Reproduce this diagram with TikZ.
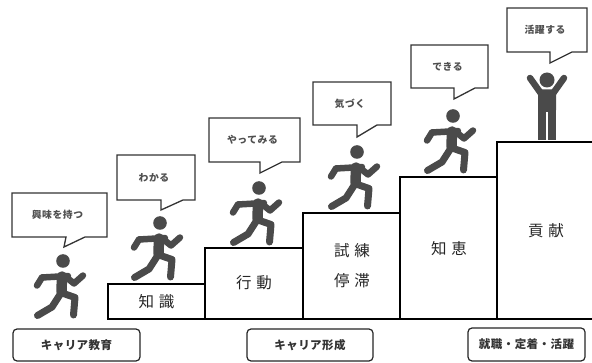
\documentclass[tikz,border=0pt]{standalone}
\usepackage{fontspec}
\newfontfamily\jp{Noto Sans CJK JP}
\newfontfamily\jpwide[LetterSpace=4]{Noto Sans CJK JP}
\newfontfamily\jptip[LetterSpace=6]{Noto Sans CJK JP}
\usetikzlibrary{calc}
\definecolor{figgray}{HTML}{4A4A4A}
\definecolor{tipgray}{HTML}{4F4F4F}
\tikzset{
  limb/.style={draw=figgray, line width=6.5pt, line cap=round, line join=round},
  stepbox/.style={draw=black, line width=1.8pt, fill=white},
  steptext/.style={font=\jp\fontsize{15.5}{19}\selectfont, text=black!85},
  bubbletext/.style={font=\jptip\bfseries\fontsize{9.8}{11}\selectfont, text=tipgray},
  bubbleline/.style={draw=black!80, line width=1.3pt, fill=white, line join=miter},
  stagebox/.style={draw=black!85, line width=1.2pt, rounded corners=4pt,
    font=\jpwide\bfseries\fontsize{11.5}{13}\selectfont, text=black!80, inner sep=0pt},
  runner/.pic={
    \fill[figgray] (0,0) circle (6.8);
    \draw[limb, line width=10.5pt] (-1,15.5) -- (-1.5,31);
    \draw[limb] (-21,16.5) -- (5,15);
    \draw[limb] (-21,16.5) -- (-26,24.5);
    \draw[limb] (3,16) -- (11,22.5) -- (20,14.5);
    \draw[limb, line width=7pt] (-2,32) -- (-11,46) -- (-25.5,54.5);
    \draw[limb, line width=7pt] (-1,32) -- (12,36.5) -- (10.5,54);
  },
  cheer/.pic={
    \fill[figgray] (0,0) circle (7.5);
    \fill[figgray, rounded corners=2pt] (-9,9.5) rectangle (9,32);
    \fill[figgray] (-9,30) rectangle (-1,60);
    \fill[figgray] (1,30) rectangle (9,60);
    \draw[limb] (-6,13.5) -- (-17,-2);
    \draw[limb] (6,13.5) -- (17,-2);
  }
}
% speech bubble: name, left, top, right, bottom, tail left x, tail right x, tip, text
\newcommand{\speech}[9]{%
  \draw[bubbleline] (#2,#3) -- (#4,#3) -- (#4,#5) -- (#7,#5) -- (#8) -- (#6,#5) -- (#2,#5) -- cycle;
  \node[bubbletext] (#1) at ({(#2+#4)/2-2},{(#3+#5)/2}) {#9};
}
\begin{document}
\begin{tikzpicture}[x=1pt,y=-1pt]
\useasboundingbox (0,0) rectangle (592,363);
\fill[white] (0,0) rectangle (592,363);

% staircase
\draw[stepbox] (108,284) rectangle (205,319);
\draw[stepbox] (205,248) rectangle (303,319);
\draw[stepbox] (303,213) rectangle (400,319);
\draw[stepbox] (400,177) rectangle (497,319);
\draw[stepbox] (497,142) rectangle (593,319);
\node[steptext] (s1) at (156.5,302) {知\hspace{5pt}識};
\node[steptext] (s2) at (254,283) {行\hspace{5pt}動};
\node[steptext] (s3a) at (352,251) {試\hspace{5pt}練};
\node[steptext] (s3b) at (352,281) {停\hspace{5pt}滞};
\node[steptext] (s4) at (449,249) {知\hspace{5pt}恵};
\node[steptext] (s5) at (546,231) {貢\hspace{5pt}献};

% figures
\pic at (63,261) {runner};
\pic at (160,223) {runner};
\pic at (259,188) {runner};
\pic at (357,152) {runner};
\pic at (453,116) {runner};
\pic at (547,80) {cheer};

% speech bubbles
\coordinate (t1) at (64,247);
\coordinate (t2) at (161,210);
\coordinate (t3) at (260,173);
\coordinate (t4) at (357,137);
\coordinate (t5) at (454,99);
\coordinate (t6) at (550,63);
\speech{b1}{12}{193}{107}{237}{66}{85}{t1}{興味を持つ}
\speech{b2}{117}{155}{195}{200}{161}{183}{t2}{わかる}
\speech{b3}{209}{118}{300}{162}{260}{282}{t3}{やってみる}
\speech{b4}{313}{82}{391}{125}{357}{377}{t4}{気づく}
\speech{b5}{411}{45}{488}{88}{454}{475}{t5}{できる}
\speech{b6}{507}{8}{587}{52}{550}{572}{t6}{活躍する}

% stages
\node[stagebox, minimum width=127pt, minimum height=32pt] (g1) at (76.5,345) {キャリア教育};
\node[stagebox, minimum width=126pt, minimum height=32pt] (g2) at (310,345) {キャリア形成};
\node[stagebox, minimum width=117pt, minimum height=33pt] (g3) at (526.5,344.5) {就職・定着・活躍};
\end{tikzpicture}
\end{document}
